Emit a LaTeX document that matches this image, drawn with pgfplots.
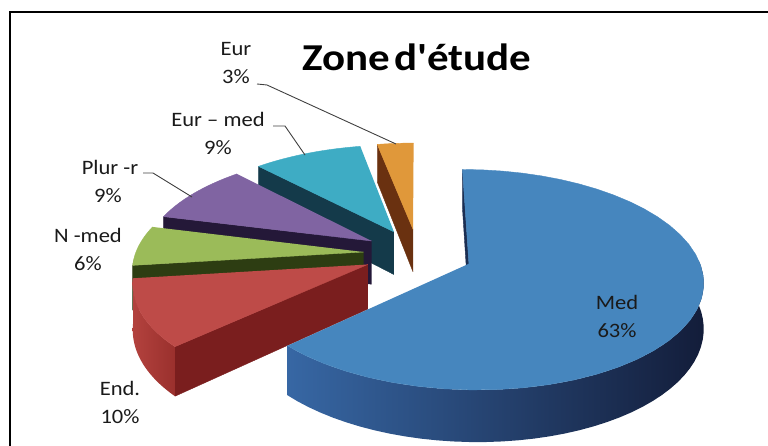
\documentclass[border=0pt]{standalone}
\usepackage{pgfplots}
\pgfplotsset{compat=1.18}
\usepackage{fontspec}
\setmainfont{Carlito}
\definecolor{medtop}{HTML}{4686BE}
\definecolor{meddark}{HTML}{1B2E52}
\definecolor{medsideL}{HTML}{3767A4}
\definecolor{medsideM}{HTML}{24457A}
\definecolor{medsideR}{HTML}{131D3A}
\definecolor{endtop}{HTML}{BE4B48}
\definecolor{enddark}{HTML}{7A1E1E}
\definecolor{endsideL}{HTML}{B3423E}
\definecolor{endsideR}{HTML}{9A302D}
\definecolor{ntop}{HTML}{9BBB59}
\definecolor{ndark}{HTML}{2D3D12}
\definecolor{ptop}{HTML}{8064A2}
\definecolor{pdark}{HTML}{241838}
\definecolor{ttop}{HTML}{3EACC4}
\definecolor{tdark}{HTML}{143A4A}
\definecolor{otop}{HTML}{E0983A}
\definecolor{odark}{HTML}{6A3110}
\definecolor{lbl}{HTML}{1A1A1A}
% slice from cumulative percent #1 to #2
\newcommand\slice[2]{%
  \pgfmathsetmacro\Ta{3.6*#1}%
  \pgfmathsetmacro\Tb{3.6*#2}%
  \pgfmathsetmacro\Tm{(\Ta+\Tb)/2}%
  \pgfmathsetmacro\ox{0.24*sin(\Tm)}%
  \pgfmathsetmacro\oy{0.24*cos(\Tm)}%
}
\newcommand\radial[1]{%
  \addplot[fill=#1, draw=#1, line width=0.4pt, line join=round, domain=0:3, samples=4, variable=\vv]
  ({SX(\Ta,(\vv>0.5)*(\vv<2.5))},{SY(\Ta,(\vv>0.5)*(\vv<2.5),(\vv>1.5))});
}
\newcommand\side[3]{%
  \pgfmathsetmacro\Sa{#1}%
  \pgfmathsetmacro\Sb{#2}%
  \addplot[draw=none, #3, domain=0:81, samples=82, variable=\vv]
  ({SX(\Sa+ifthenelse(\vv<40.5,\vv,81-\vv)*(\Sb-\Sa)/40,1)},
   {SY(\Sa+ifthenelse(\vv<40.5,\vv,81-\vv)*(\Sb-\Sa)/40,1,(\vv>40.5))});
}
\newcommand\topface[1]{%
  \addplot[fill=#1, draw=#1, line width=0.4pt, line join=round, domain=0:41, samples=42, variable=\vv]
  ({SX(\Ta+max(\vv-1,0)*(\Tb-\Ta)/40,(\vv>0.5))},{SY(\Ta+max(\vv-1,0)*(\Tb-\Ta)/40,(\vv>0.5),0)});
}
\newcommand\lab[3]{\node[anchor=base, xscale=1.1, text=lbl, font=\fontsize{20.5}{24}\selectfont] at (axis cs:#1,#2) {#3};}
\begin{document}
\begin{tikzpicture}
\begin{axis}[
  scale only axis, width=768pt, height=446pt,
  xmin=0, xmax=768, ymin=0, ymax=446, y dir=reverse,
  hide axis, clip=true,
  declare function={
    gx(\pA,\pR)=\ox+\pR*sin(\pA);
    gy(\pA,\pR)=\oy+\pR*cos(\pA);
    ss(\pA,\pR)=7/(7+gy(\pA,\pR));
    SX(\pA,\pR)=418+228*gx(\pA,\pR)*ss(\pA,\pR);
    SY(\pA,\pR,\pZ)=253.6+(44*\pZ-105*gy(\pA,\pR))*ss(\pA,\pR);
  }
]
\addplot[draw=none] coordinates {(0,0) (768,446)};
% Med start face (back)
\slice{0}{63}
\radial{meddark}
% Eur 3%
\slice{97}{100}
\radial{odark}
\topface{otop}
% Eur - med 9%
\slice{88}{97}
\radial{tdark}
\topface{ttop}
% Plur -r 9%
\slice{79}{88}
\radial{pdark}
\topface{ptop}
% N -med 6%
\slice{73}{79}
\radial{ndark}
\side{262.8}{266}{fill=ndark}
\topface{ntop}
% End. 10%
\slice{63}{73}
\radial{enddark}
\side{226.8}{262.8}{left color=endsideL, right color=endsideR}
\topface{endtop}
% Med 63%
\slice{0}{63}
\side{88}{226.8}{left color=medsideL, middle color=medsideM, right color=medsideR}
\topface{medtop}
% leader lines
\addplot[black!75, line width=0.9pt] coordinates {(257,84) (267,85) (396,144)};
\addplot[black!75, line width=0.9pt] coordinates {(273,126) (285,126) (305,155)};
\addplot[black!75, line width=0.9pt] coordinates {(143,173) (153,173) (192,197)};
% frame
\addplot[black, line width=2pt] coordinates {(10,446) (10,12) (768,12)};
% title
\node[anchor=base, xscale=1.13, font=\fontsize{38}{42}\selectfont\bfseries] at (axis cs:417,71)
  {Zone\hspace{0.1em}d\XeTeXglyph\XeTeXcharglyph"0027\relax étude};
% labels
\lab{617}{309}{Med}
\lab{617}{337}{63\%}
\lab{120}{395}{End.}
\lab{120}{423}{10\%}
\lab{88}{243}{N -med}
\lab{88}{271}{6\%}
\lab{110}{175}{Plur -r}
\lab{108}{203}{9\%}
\lab{218}{127}{Eur -- med}
\lab{218}{155}{9\%}
\lab{236}{56}{Eur}
\lab{236}{84}{3\%}
\end{axis}
\end{tikzpicture}
\end{document}
